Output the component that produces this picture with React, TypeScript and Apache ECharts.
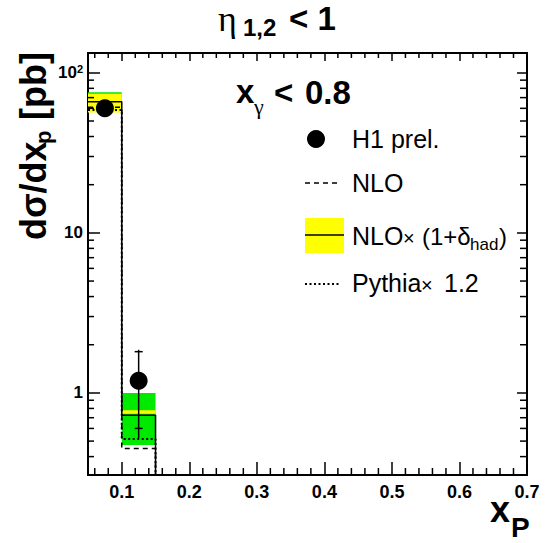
import React, { useEffect, useRef } from "react";
import * as echarts from "echarts";

// ---- data ----
const binEdges = [0.05, 0.1, 0.15];
const nloValues = [61, 0.45];
const nloHadValues = [66, 0.725];
const pythiaValues = [58.5, 0.516];
const yellowLow = [56.5, 0.74];
const yellowHigh = [74, 0.78];
const greenLow = [58, 0.473];
const greenHigh = [75.5, 1.0];
const dataX = [0.075, 0.125];
const dataY = [60, 1.19];
const statLow = [57, 0.6];
const statHigh = [63, 1.81];
const totLow = [56, 0.52];
const totHigh = [64, 1.86];

const X_MIN = 0.05;
const X_MAX = 0.7;
const Y_MIN = 0.307;
const Y_MAX = 133;
const FLOOR = 0.05;

const xMinorTicks = [
  0.06, 0.08, 0.12, 0.14, 0.16, 0.18, 0.22, 0.24, 0.26, 0.28, 0.32, 0.34, 0.36, 0.38,
  0.42, 0.44, 0.46, 0.48, 0.52, 0.54, 0.56, 0.58, 0.62, 0.64, 0.66, 0.68,
];
const yMinorTicks = [
  0.4, 0.5, 0.6, 0.7, 0.8, 0.9, 2, 3, 4, 5, 6, 7, 8, 9, 20, 30, 40, 50, 60, 70, 80, 90,
];

const FONT = "'Liberation Sans', Arial, Helvetica, sans-serif";
const SERIF = "'Liberation Serif', 'DejaVu Serif', serif";

function stepData(vals: number[]) {
  const d: number[][] = vals.map((v, i) => [binEdges[i], v]);
  d.push([binEdges[vals.length], FLOOR]);
  d.push([X_MAX, FLOOR]);
  return d;
}

function bandData(lo: number[], hi: number[]) {
  return lo.map((l, i) => [binEdges[i], binEdges[i + 1], l, hi[i]]);
}

function bandRender(fill: string) {
  return (params: any, api: any) => {
    const p0 = api.coord([api.value(0), api.value(3)]);
    const p1 = api.coord([api.value(1), api.value(2)]);
    return {
      type: "rect",
      shape: { x: p0[0], y: p0[1], width: p1[0] - p0[0], height: p1[1] - p0[1] },
      style: { fill },
    };
  };
}

function txt(text: string, x: number, y: number, size: number, opts: any = {}) {
  return {
    type: "text",
    x,
    y,
    silent: true,
    style: {
      text,
      fontSize: size,
      fontFamily: opts.family || FONT,
      fontWeight: opts.weight || "normal",
      fill: "#000",
      align: opts.align || "left",
      textAlign: opts.align || "left",
      verticalAlign: "middle",
      textVerticalAlign: "middle",
    },
  };
}

const lineEl = (x1: number, y1: number, x2: number, y2: number, style: any) => ({
  type: "line",
  silent: true,
  shape: { x1, y1, x2, y2 },
  style: { stroke: "#000", lineWidth: 1.5, ...style },
});

export default function App() {
  const ref = useRef<HTMLDivElement>(null);
  useEffect(() => {
    document.body.style.margin = "0";
    const chart = echarts.init(ref.current!, undefined, { renderer: "svg" });
    const axisLine = { onZero: false, lineStyle: { color: "#000", width: 2 } };
    const labelStyle = { fontSize: 17, fontWeight: "bold", fontFamily: FONT, color: "#000" };
    const xBase = {
      type: "value",
      min: X_MIN,
      max: X_MAX,
      splitNumber: 6,
      axisLine,
      splitLine: { show: false },
    };
    const yBase = {
      type: "log",
      logBase: 10,
      min: Y_MIN,
      max: Y_MAX,
      axisLine,
      splitLine: { show: false },
      minorTick: { show: false },
    };
    const option: any = {
      animation: false,
      backgroundColor: "#fff",
      grid: { left: 88, top: 53, right: 21, bottom: 68 },
      xAxis: [
        {
          ...xBase,
          position: "bottom",
          axisTick: { inside: true, length: 13, lineStyle: { color: "#000", width: 1.5 } },
          axisLabel: {
            ...labelStyle,
            margin: 8,
            formatter: (v: number) => (v < 0.099 ? "" : "{n|" + v.toFixed(1) + "}"),
            rich: { n: { ...labelStyle, fontSize: 18 } },
          },
        },
        {
          ...xBase,
          position: "top",
          axisTick: { inside: true, length: 8, lineStyle: { color: "#000", width: 1.5 } },
          axisLabel: { show: false },
        },
      ],
      yAxis: [
        {
          ...yBase,
          position: "left",
          axisTick: { inside: true, length: 12, lineStyle: { color: "#000", width: 1.5 } },
          axisLabel: {
            margin: 5,
            formatter: (v: number) => {
              const l = Math.log10(v);
              const e = Math.round(l);
              if (Math.abs(l - e) > 1e-6) return "";
              if (e === 0) return "{n|1}";
              if (e === 1) return "{n|10}";
              return "{n|10}{s|" + e + "}";
            },
            rich: {
              n: { ...labelStyle, lineHeight: 18 },
              s: { fontSize: 11, fontWeight: "bold", fontFamily: FONT, color: "#000", verticalAlign: "top", lineHeight: 11 },
            },
          },
        },
        {
          ...yBase,
          position: "right",
          axisTick: { inside: true, length: 10, lineStyle: { color: "#000", width: 1.5 } },
          axisLabel: { show: false },
        },
      ],
      series: [
        {
          type: "custom",
          name: "green",
          xAxisIndex: 0,
          yAxisIndex: 0,
          encode: { x: [0, 1], y: [2, 3] },
          data: bandData(greenLow, greenHigh),
          renderItem: bandRender("#00ea00"),
          z: 1,
        },
        {
          type: "custom",
          name: "yellow",
          xAxisIndex: 0,
          yAxisIndex: 0,
          encode: { x: [0, 1], y: [2, 3] },
          data: bandData(yellowLow, yellowHigh),
          renderItem: bandRender("#ffff00"),
          z: 2,
        },
        {
          type: "line",
          name: "NLO",
          step: "end",
          symbol: "none",
          data: stepData(nloValues),
          lineStyle: { color: "#000", width: 1.5, type: [5, 4] },
          z: 3,
        },
        {
          type: "line",
          name: "NLOhad",
          step: "end",
          symbol: "none",
          data: stepData(nloHadValues),
          lineStyle: { color: "#000", width: 1.5 },
          z: 3,
        },
        {
          type: "line",
          name: "Pythia",
          step: "end",
          symbol: "none",
          data: stepData(pythiaValues),
          lineStyle: { color: "#000", width: 2, type: [2, 2.5] },
          z: 3,
        },
        {
          type: "custom",
          name: "errors",
          encode: { x: 0, y: [1, 2, 3, 4] },
          data: dataX.map((x, i) => [x, totLow[i], totHigh[i], statLow[i], statHigh[i]]),
          renderItem: (params: any, api: any) => {
            const x = api.value(0);
            const a = api.coord([x, api.value(1)]);
            const b = api.coord([x, api.value(2)]);
            const c = api.coord([x, api.value(3)]);
            const d = api.coord([x, api.value(4)]);
            const st = { stroke: "#000", lineWidth: 1.5 };
            return {
              type: "group",
              children: [
                { type: "line", shape: { x1: a[0], y1: a[1], x2: b[0], y2: b[1] }, style: st },
                { type: "line", shape: { x1: c[0] - 4, y1: c[1], x2: c[0] + 4, y2: c[1] }, style: st },
                { type: "line", shape: { x1: d[0] - 4, y1: d[1], x2: d[0] + 4, y2: d[1] }, style: st },
              ],
            };
          },
          z: 4,
        },
        {
          type: "scatter",
          name: "H1",
          symbol: "circle",
          symbolSize: 18,
          itemStyle: { color: "#000", opacity: 1 },
          data: dataX.map((x, i) => [x, dataY[i]]),
          z: 10,
        },
        {
          type: "custom",
          name: "yminor",
          encode: { x: 0, y: 1 },
          data: yMinorTicks.map((v) => [X_MIN, v]),
          renderItem: (params: any, api: any) => {
            const v = api.value(1);
            const l = api.coord([X_MIN, v]);
            const r = api.coord([X_MAX, v]);
            const st = { stroke: "#000", lineWidth: 1.5 };
            return {
              type: "group",
              children: [
                { type: "line", shape: { x1: l[0], y1: l[1], x2: l[0] + 6, y2: l[1] }, style: st },
                { type: "line", shape: { x1: r[0], y1: r[1], x2: r[0] - 7, y2: r[1] }, style: st },
              ],
            };
          },
          z: 6,
        },
        {
          type: "custom",
          name: "xminor",
          encode: { x: 0, y: 1 },
          data: xMinorTicks.map((v) => [v, 1]),
          renderItem: (params: any, api: any) => {
            const v = api.value(0);
            const b = api.coord([v, Y_MIN]);
            const t = api.coord([v, Y_MAX]);
            const st = { stroke: "#000", lineWidth: 1.5 };
            return {
              type: "group",
              children: [
                { type: "line", shape: { x1: b[0], y1: b[1], x2: b[0], y2: b[1] - 7 }, style: st },
                { type: "line", shape: { x1: t[0], y1: t[1], x2: t[0], y2: t[1] + 5 }, style: st },
              ],
            };
          },
          z: 6,
        },
      ],
      graphic: [
        // title
        txt("η", 218, 19, 36, { family: SERIF }),
        txt("1,2", 243, 27, 24, { weight: "bold" }),
        txt("< 1", 289, 18.5, 33, { weight: "bold" }),
        // x_gamma < 0.8
        txt("x", 236, 91.6, 33, { weight: "bold" }),
        txt("γ", 254, 106, 22, { family: SERIF }),
        txt("<", 274, 92.5, 33, { weight: "bold" }),
        txt("0.8", 305, 92.5, 33, { weight: "bold" }),
        // legend
        { type: "circle", silent: true, shape: { cx: 316, cy: 139, r: 9 }, style: { fill: "#000" } },
        txt("H1 prel.", 352, 139, 25),
        lineEl(305, 183, 339, 183, { lineDash: [5, 4] }),
        txt("NLO", 352, 183, 25),
        { type: "rect", silent: true, shape: { x: 305, y: 218, width: 39, height: 35 }, style: { fill: "#ffff00" } },
        lineEl(305, 235, 344, 235, {}),
        txt("NLO", 352, 236, 25),
        txt("×", 403, 238, 20),
        txt("(1+δ", 422, 236, 24),
        txt("had", 470, 244, 17),
        txt(")", 499, 236, 24),
        lineEl(305, 284, 341, 284, { lineWidth: 2, lineDash: [2, 2.5] }),
        txt("Pythia", 352, 283, 25),
        txt("×", 421, 285, 20),
        txt("1.2", 444, 283, 25),
        // y-axis title
        {
          type: "group",
          x: 33.5,
          y: 240,
          rotation: Math.PI / 2,
          children: [
            txt("dσ/dx", 0, 0, 36, { weight: "bold" }),
            txt("p", 96, 10.3, 22, { weight: "bold" }),
            txt(" [pb]", 110, 0, 36, { weight: "bold" }),
          ],
        },
        // x-axis title
        txt("x", 490, 509.5, 36, { weight: "bold" }),
        txt("P", 511, 527, 28, { weight: "bold" }),
      ],
    };
    chart.setOption(option);
    return () => chart.dispose();
  }, []);
  return <div ref={ref} style={{ width: 548, height: 543 }} />;
}
